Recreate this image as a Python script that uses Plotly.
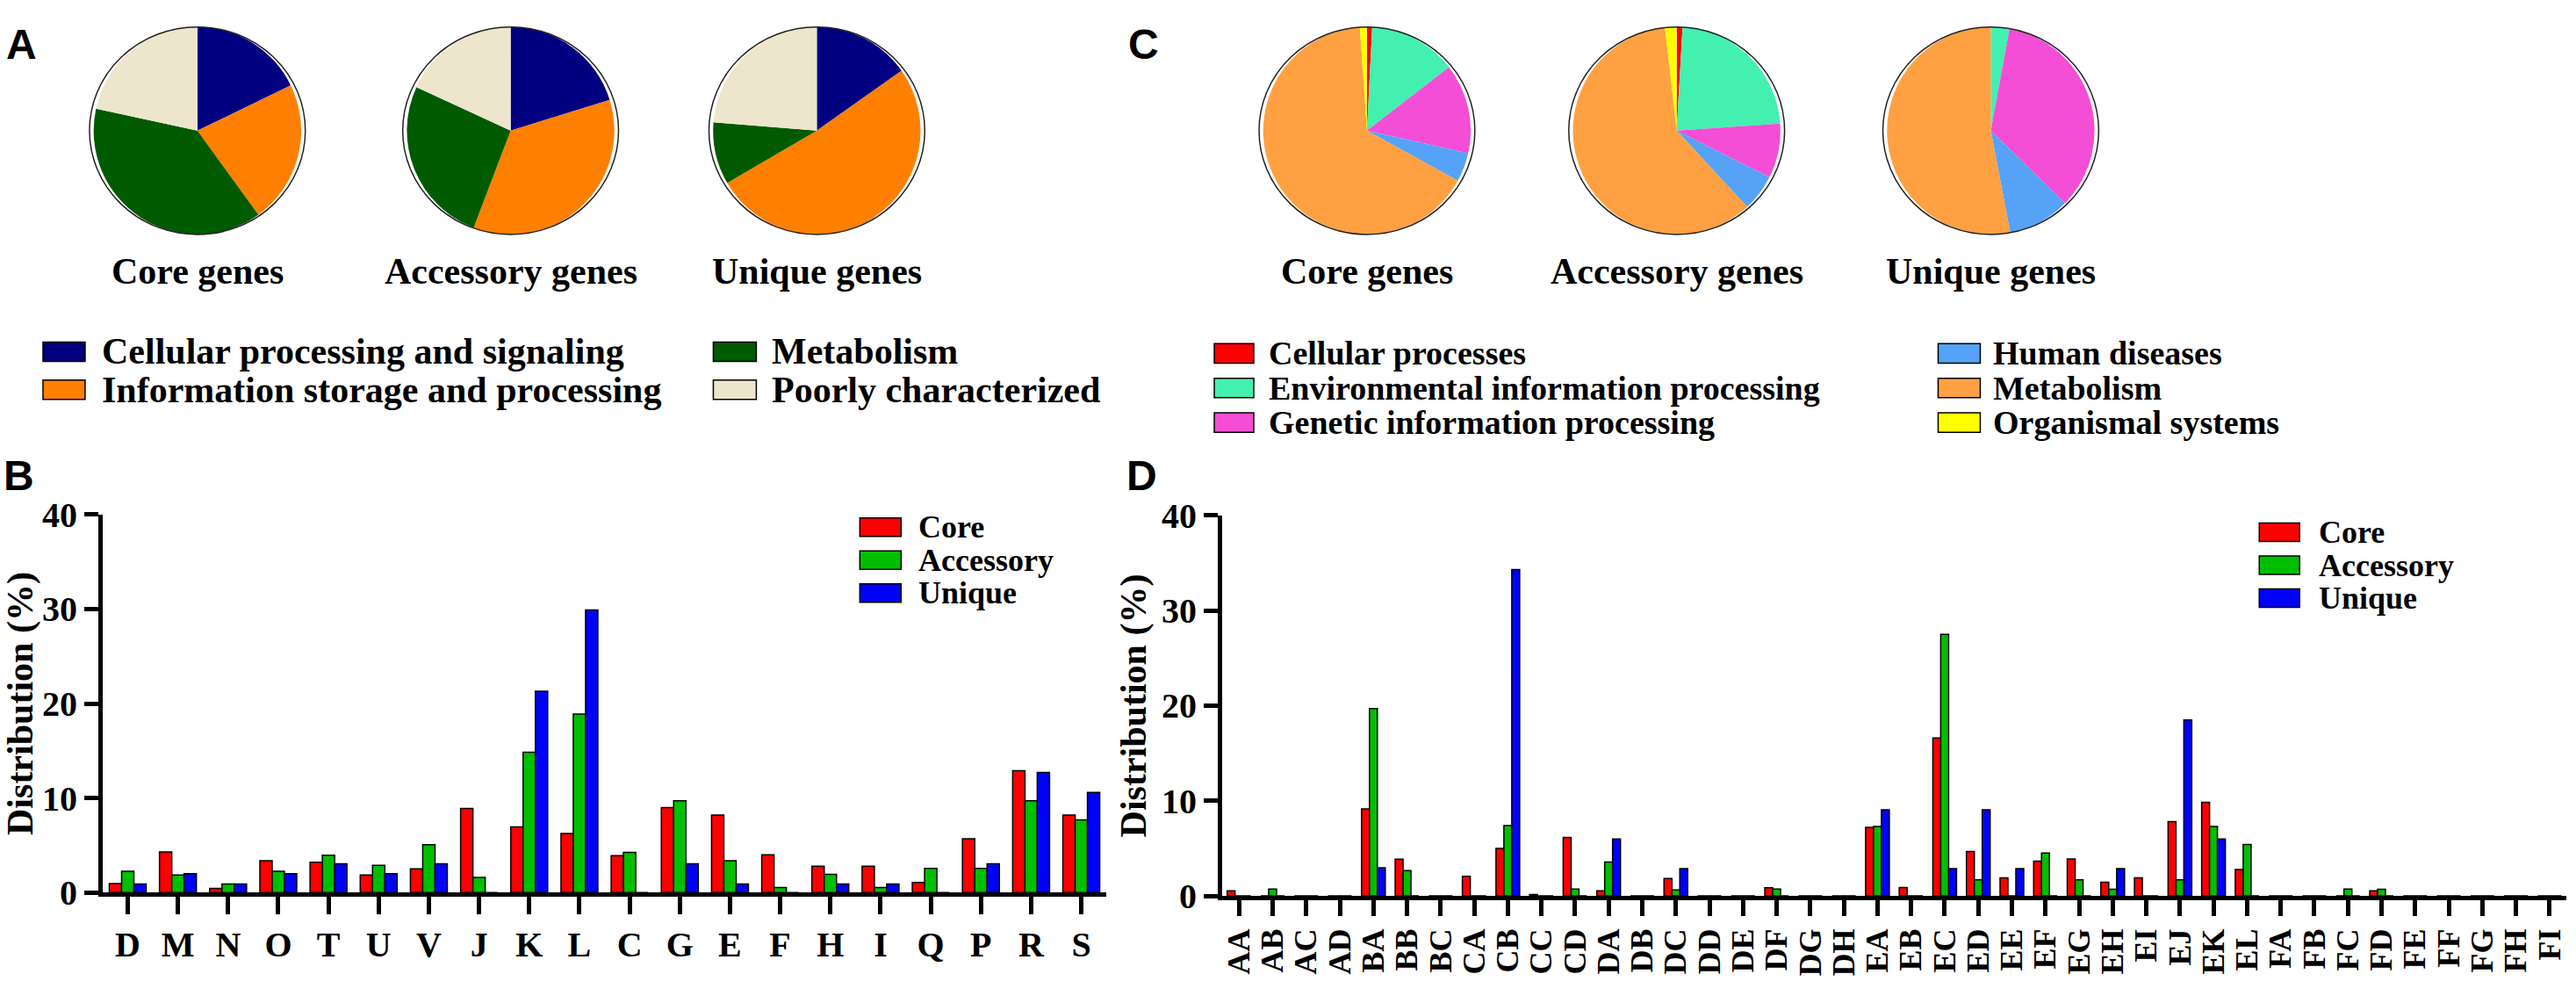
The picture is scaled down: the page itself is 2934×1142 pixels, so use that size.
import plotly.graph_objects as go

W, H = 2934, 1142

# ---------------- data ----------------
cog_labels = ["Cellular processing and signaling", "Information storage and processing",
              "Metabolism", "Poorly characterized"]
cog_colors = ["#000080", "#FF8000", "#005A00", "#EDE6CC"]
cog_core = [17.8, 22.2, 38.4, 21.6]
cog_accessory = [20.2, 35.6, 26.1, 18.1]
cog_unique = [15.2, 51.4, 9.7, 23.7]

kegg_labels = ["Cellular processes", "Environmental information processing",
               "Genetic information processing", "Human diseases",
               "Metabolism", "Organismal systems"]
kegg_colors = ["#FF0000", "#43F0B0", "#F44DD6", "#55A2F7", "#FFA042", "#FFFF00"]
kegg_core = [0.8, 13.7, 14.0, 4.5, 65.9, 1.1]
kegg_accessory = [0.9, 23.0, 8.5, 5.7, 60.1, 1.8]
kegg_unique = [0.0, 2.9, 34.4, 9.7, 53.0, 0.0]

pie_titles = ["Core genes", "Accessory genes", "Unique genes"]

cog_cats = ["D", "M", "N", "O", "T", "U", "V", "J", "K", "L",
            "C", "G", "E", "F", "H", "I", "Q", "P", "R", "S"]
cog_bar_core = [0.96, 4.3, 0.45, 3.36, 3.2, 1.86, 2.5, 8.9, 6.94, 6.24,
                3.9, 9.0, 8.2, 4.0, 2.78, 2.78, 1.06, 5.7, 12.9, 8.2]
cog_bar_accessory = [2.24, 1.86, 0.9, 2.24, 3.94, 2.88, 5.06, 1.6, 14.85, 18.9,
                     4.26, 9.7, 3.36, 0.54, 1.92, 0.54, 2.56, 2.56, 9.7, 7.7]
cog_bar_unique = [0.9, 2.0, 0.9, 2.0, 3.04, 2.0, 3.04, 0, 21.3, 29.9,
                  0, 3.04, 0.9, 0, 0.9, 0.9, 0, 3.04, 12.7, 10.6]

kegg_cats = ["AA", "AB", "AC", "AD", "BA", "BB", "BC", "CA", "CB", "CC",
             "CD", "DA", "DB", "DC", "DD", "DE", "DF", "DG", "DH", "EA",
             "EB", "EC", "ED", "EE", "EF", "EG", "EH", "EI", "EJ", "EK",
             "EL", "FA", "FB", "FC", "FD", "FE", "FF", "FG", "FH", "FI"]
kegg_bar_core = [0.54, 0, 0, 0, 9.15, 3.85, 0, 2.05, 5.0, 0.15,
                 6.14, 0.54, 0, 1.84, 0, 0, 0.86, 0, 0, 7.2,
                 0.89, 16.6, 4.67, 1.9, 3.66, 3.88, 1.43, 1.9, 7.8, 9.85,
                 2.77, 0, 0, 0, 0.54, 0, 0, 0, 0, 0]
kegg_bar_accessory = [0, 0.73, 0, 0, 19.7, 2.65, 0, 0, 7.4, 0,
                      0.73, 3.56, 0, 0.64, 0, 0, 0.73, 0, 0, 7.31,
                      0, 27.5, 1.69, 0, 4.5, 1.69, 0.7, 0, 1.69, 7.31,
                      5.4, 0, 0, 0.73, 0.7, 0, 0, 0, 0, 0]
kegg_bar_unique = [0, 0, 0, 0, 2.95, 0, 0, 0, 34.3, 0,
                   0, 5.98, 0, 2.86, 0, 0, 0, 0, 0, 9.06,
                   0, 2.86, 9.06, 2.86, 0, 0, 2.86, 0, 18.5, 5.98,
                   0, 0, 0, 0, 0, 0, 0, 0, 0, 0]

series_names = ["Core", "Accessory", "Unique"]
series_colors = ["#FF0000", "#00BF00", "#0000FF"]

# ---------------- helpers ----------------
def fx(x):
    return x / W

def fy(y):
    return 1 - y / H

SERIF = "Liberation Serif"
SANS = "Liberation Sans"

fig = go.Figure()

# ---------------- pies ----------------
D = 246
pie_y = 132
for vals_list, labels, colors, centers in [
    ([cog_core, cog_accessory, cog_unique], cog_labels, cog_colors, [224, 581, 930]),
    ([kegg_core, kegg_accessory, kegg_unique], kegg_labels, kegg_colors, [1557, 1910, 2268]),
]:
    for vals, cx, title in zip(vals_list, centers, pie_titles):
        fig.add_trace(go.Pie(
            labels=labels, values=vals, sort=False, direction="clockwise", rotation=0,
            marker=dict(colors=colors, line=dict(width=0)),
            textinfo="none", showlegend=False, name=title,
            domain=dict(x=[fx(cx - D / 2), fx(cx + D / 2)],
                        y=[fy(pie_y + D / 2), fy(pie_y - D / 2)]),
        ))
        fig.add_shape(type="circle", xref="paper", yref="paper",
                      x0=fx(cx - D / 2), x1=fx(cx + D / 2),
                      y0=fy(pie_y + D / 2), y1=fy(pie_y - D / 2),
                      line=dict(color="#222222", width=1.5))
        fig.add_annotation(text=title, x=fx(cx), y=fy(299), xref="paper", yref="paper",
                           showarrow=False, xanchor="center", yanchor="middle",
                           font=dict(family=SERIF, size=42, color="black", weight="bold"))

# ---------------- bars ----------------
def add_bars(cats, series, xa, ya, w):
    for i, (vals, name, col) in enumerate(zip(series, series_names, series_colors)):
        fig.add_trace(go.Bar(
            x=cats, y=vals, name=name, xaxis=xa, yaxis=ya,
            width=w, offset=-1.5 * w + i * w,
            marker=dict(color=col, line=dict(color="black", width=1.5)),
            showlegend=False,
        ))

add_bars(cog_cats, [cog_bar_core, cog_bar_accessory, cog_bar_unique], "x", "y", 0.245)
add_bars(kegg_cats, [kegg_bar_core, kegg_bar_accessory, kegg_bar_unique], "x2", "y2", 0.235)

axis_common = dict(showline=True, linewidth=5, linecolor="black", ticks="outside",
                   tickwidth=5, tickcolor="black", showgrid=False, zeroline=False)
tick_font = dict(family=SERIF, size=40, color="black", weight="bold")
title_font = dict(family=SERIF, size=42, color="black", weight="bold")

fig.update_layout(
    width=W, height=H, margin=dict(l=0, r=0, t=0, b=0),
    paper_bgcolor="white", plot_bgcolor="white", barmode="overlay",
    xaxis=dict(domain=[fx(116), fx(1260)], anchor="y", type="category",
               categoryorder="array", categoryarray=cog_cats, range=[-0.5, 19.5],
               tickmode="array", tickvals=cog_cats, ticktext=cog_cats,
               ticklen=20, tickfont=tick_font, **axis_common),
    yaxis=dict(domain=[fy(1035), fy(587)], anchor="x", range=[0, 40],
               tickvals=[0, 10, 20, 30, 40], ticklen=16, tickfont=tick_font,
               title=dict(text="Distribution (%)", font=title_font, standoff=6),
               **axis_common),
    xaxis2=dict(domain=[fx(1392), fx(2924)], anchor="y2", type="category",
                categoryorder="array", categoryarray=kegg_cats, range=[-0.5, 39.5],
                tickmode="array", tickvals=kegg_cats, ticktext=kegg_cats,
                ticklen=18, tickangle=-90,
                tickfont=dict(family=SERIF, size=36, color="black", weight="bold"),
                **axis_common),
    yaxis2=dict(domain=[fy(1039), fy(588)], anchor="x2", range=[0, 40],
                tickvals=[0, 10, 20, 30, 40], ticklen=16, tickfont=tick_font,
                title=dict(text="Distribution (%)", font=title_font, standoff=6),
                **axis_common),
)

# ---------------- legends (swatches + text) ----------------
def legend_item(x0, x1, yc, h, color, text, tx, size):
    fig.add_shape(type="rect", xref="paper", yref="paper",
                  x0=fx(x0), x1=fx(x1), y0=fy(yc + h / 2), y1=fy(yc - h / 2),
                  fillcolor=color, line=dict(color="black", width=1.5))
    fig.add_annotation(text=text, x=fx(tx), y=fy(yc), xref="paper", yref="paper",
                       showarrow=False, xanchor="left", yanchor="middle",
                       font=dict(family=SERIF, size=size, color="black", weight="bold"))

# Panel A legend
legend_item(48, 96, 394, 23, cog_colors[0], cog_labels[0], 113, 42)
legend_item(48, 96, 439, 23, cog_colors[1], cog_labels[1], 113, 42)
legend_item(812, 861, 394, 23, cog_colors[2], cog_labels[2], 877, 42)
legend_item(812, 861, 439, 23, cog_colors[3], cog_labels[3], 877, 42)
# Panel C legend
for j, yc in enumerate([396, 437, 478]):
    legend_item(1383, 1428, yc, 23, kegg_colors[j], kegg_labels[j], 1443, 38)
    legend_item(2208, 2256, yc, 23, kegg_colors[j + 3], kegg_labels[j + 3], 2269, 38)
# Panel B and D legends
for j, (yb, yd) in enumerate(zip([602, 641, 680], [608, 647, 686])):
    legend_item(979, 1026, yb, 22, series_colors[j], series_names[j], 1044, 36)
    legend_item(2574, 2620, yd, 22, series_colors[j], series_names[j], 2640, 36)

# Panel letters
for letter, x, y in [("A", 24, 30), ("B", 21, 541), ("C", 1302, 30), ("D", 1300, 541)]:
    fig.add_annotation(text=letter, x=fx(x), y=fy(y), xref="paper", yref="paper",
                       showarrow=False, xanchor="center", yanchor="middle",
                       font=dict(family=SANS, size=48, color="black", weight="bold"))

fig.write_html("out.html", config={"displayModeBar": False},
               post_script="document.body.style.margin='0';document.body.style.overflow='hidden';")
